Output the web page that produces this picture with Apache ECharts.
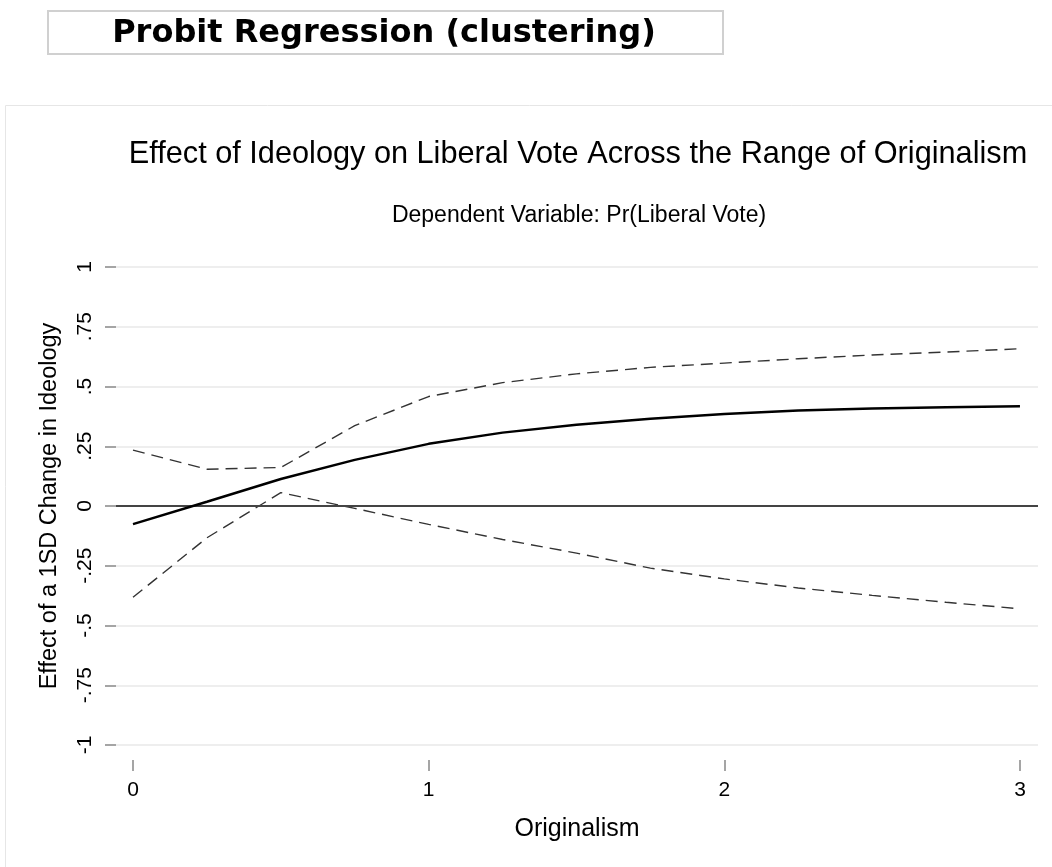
<!DOCTYPE html>
<html>
<head>
<meta charset="utf-8">
<script src="https://cdn.jsdelivr.net/npm/echarts@6/dist/echarts.min.js"></script>
<style>
html,body{margin:0;padding:0;background:#fff;}
#chart{width:1052px;height:867px;}
</style>
</head>
<body>
<div id="chart"></div>
<script>
const originalism = [0, 0.25, 0.5, 0.75, 1, 1.25, 1.5, 1.75, 2, 2.25, 2.5, 2.75, 3];
const effect = [-0.076, 0.018, 0.113, 0.193, 0.26, 0.307, 0.34, 0.365, 0.385, 0.40, 0.408, 0.413, 0.417];
const upperCI = [0.234, 0.154, 0.161, 0.336, 0.458, 0.516, 0.553, 0.58, 0.598, 0.616, 0.632, 0.644, 0.658];
const lowerCI = [-0.382, -0.133, 0.056, -0.01, -0.077, -0.14, -0.197, -0.26, -0.305, -0.343, -0.374, -0.403, -0.43];
const xTicks = [0, 1, 2, 3];
const yTickLabels = {'1':'1','0.75':'.75','0.5':'.5','0.25':'.25','0':'0','-0.25':'-.25','-0.5':'-.5','-0.75':'-.75','-1':'-1'};

const pairs = arr => originalism.map((x, i) => [x, arr[i]]);
const font = 'Liberation Sans, Arial, sans-serif';

const chart = echarts.init(document.getElementById('chart'), null, {renderer: 'canvas'});
chart.setOption({
  animation: false,
  backgroundColor: '#fff',
  graphic: [
    {type: 'rect', left: 5, top: 105, shape: {width: 1100, height: 800},
     style: {fill: '#fff', stroke: '#e6e6e6', lineWidth: 1}, z: -10},
    {type: 'rect', left: 47, top: 10, shape: {width: 675, height: 43},
     style: {fill: '#fff', stroke: '#d0d0d0', lineWidth: 2}},
    {type: 'text', x: 384, y: 34,
     style: {text: 'Probit Regression (clustering)', font: 'bold 32px "DejaVu Sans", Verdana, sans-serif',
             fill: '#000', textAlign: 'center', textVerticalAlign: 'middle'}}
  ],
  title: [
    {text: 'Effect of Ideology on Liberal Vote Across the Range of Originalism',
     left: 573, top: 134, textAlign: 'center',
     textStyle: {fontFamily: font, fontSize: 30.7, fontWeight: 'normal', color: '#000'}},
    {text: 'Dependent Variable: Pr(Liberal Vote)',
     left: 574, top: 199, textAlign: 'center',
     textStyle: {fontFamily: font, fontSize: 23, fontWeight: 'normal', color: '#000'}}
  ],
  grid: {left: 116, right: 14, top: 267, bottom: 122, containLabel: false},
  xAxis: {
    type: 'value', min: -0.0575, max: 3.061,
    offset: 15,
    name: 'Originalism', nameLocation: 'middle', nameGap: 57,
    nameTextStyle: {fontFamily: font, fontSize: 25, color: '#000'},
    axisLine: {show: false, onZero: false},
    axisTick: {show: true, customValues: xTicks, length: 11, lineStyle: {color: '#888', width: 1.5}},
    axisLabel: {customValues: xTicks, fontFamily: font, fontSize: 21, color: '#000', margin: 20,
                formatter: v => String(v)},
    splitLine: {show: false}
  },
  yAxis: {
    type: 'value', min: -1, max: 1, interval: 0.25,
    name: 'Effect of a 1SD Change in Ideology', nameLocation: 'middle', nameGap: 54, nameRotate: 90,
    nameTextStyle: {fontFamily: font, fontSize: 23.5, color: '#000'},
    axisLine: {show: false, onZero: false},
    axisTick: {show: true, length: 11, lineStyle: {color: '#888', width: 1.5}},
    axisLabel: {rotate: 90, fontFamily: font, fontSize: 21, color: '#000', margin: 20,
                formatter: v => yTickLabels[String(v)] ?? String(v)},
    splitLine: {show: true, lineStyle: {color: '#e8e8e8', width: 1.5}}
  },
  series: [
    {type: 'line', data: pairs(effect), symbol: 'none', z: 5,
     lineStyle: {color: '#000', width: 2.5},
     markLine: {silent: true, symbol: 'none', label: {show: false},
                lineStyle: {color: '#444', width: 2, type: 'solid'},
                data: [{yAxis: 0}]}},
    {type: 'line', data: pairs(upperCI), symbol: 'none', z: 4,
     lineStyle: {color: '#333', width: 1.4, type: [12, 7]}},
    {type: 'line', data: pairs(lowerCI), symbol: 'none', z: 4,
     lineStyle: {color: '#333', width: 1.4, type: [12, 7]}}
  ]
});
</script>
</body>
</html>
